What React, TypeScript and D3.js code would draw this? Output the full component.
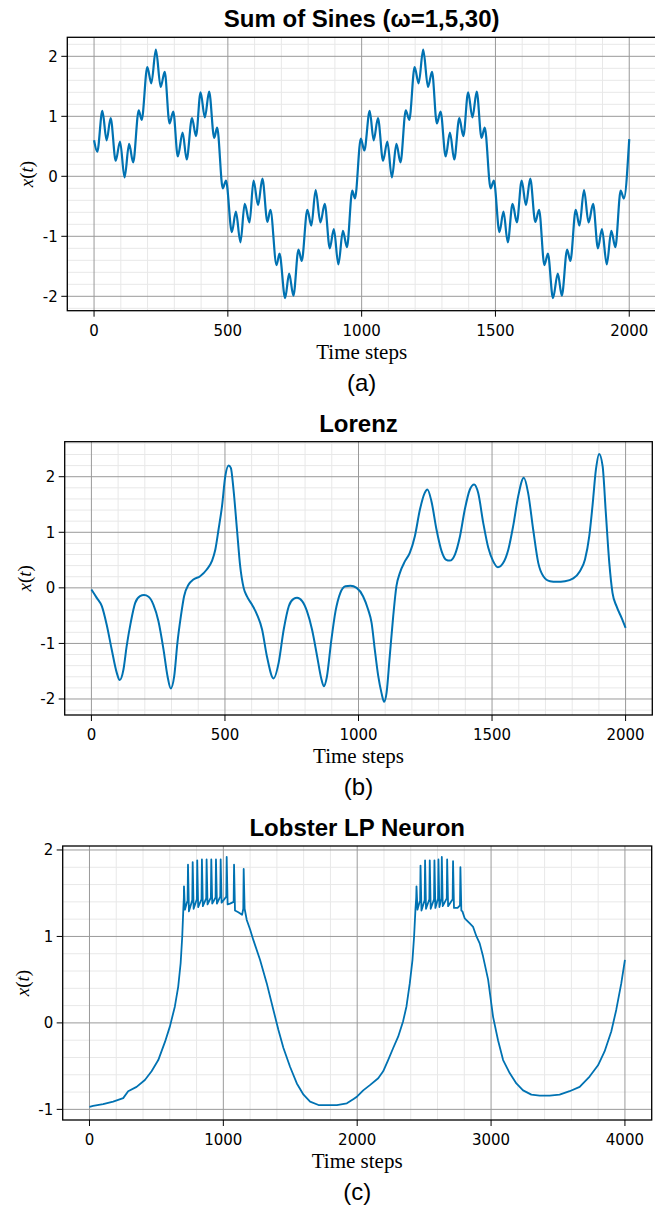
import React from 'react';
import * as d3 from 'd3';

// ---- Sum of sines (peaks / troughs) ----
const sinesT = [0, 12, 31, 47, 62, 81, 97, 114, 131, 146, 167, 178, 199, 214, 231, 249, 264, 282, 296, 313, 331, 346, 366, 381, 398, 414, 430, 449, 460, 481, 493, 515, 530, 547, 563, 581, 596, 613, 629, 648, 659, 682, 693, 714, 729, 745, 764, 776, 797, 812, 828, 846, 862, 881, 896, 913, 930, 945, 965, 975, 997,
  1010, 1030, 1045, 1061, 1080, 1096, 1113, 1130, 1145, 1165, 1178, 1198, 1213, 1230, 1248, 1263, 1281, 1295, 1314, 1330, 1346, 1365, 1380, 1398, 1414, 1430, 1448, 1460, 1482, 1494, 1515, 1530, 1546, 1564, 1580, 1598, 1614, 1630, 1649, 1663, 1683, 1696, 1715, 1733, 1748, 1768, 1780, 1800, 1814, 1831, 1848, 1865, 1883, 1898, 1916, 1933, 1948, 1968, 1980, 2000];
const sinesX = [0.6, 0.41, 1.09, 0.6, 0.97, 0.26, 0.58, -0.02, 0.54, 0.23, 1.1, 0.94, 1.82, 1.55, 2.11, 1.49, 1.74, 0.88, 1.08, 0.33, 0.73, 0.28, 0.97, 0.67, 1.4, 0.98, 1.41, 0.64, 0.81, -0.2, -0.07, -0.93, -0.59, -1.1, -0.46, -0.77, -0.07, -0.48, -0.04, -0.76, -0.56, -1.48, -1.29, -2.03, -1.62, -1.99, -1.22, -1.41, -0.56, -0.82, -0.23, -0.77, -0.46, -1.2, -0.88, -1.47, -0.91, -1.18, -0.24, -0.37, 0.63,
  0.43, 1.09, 0.6, 0.97, 0.26, 0.58, -0.02, 0.54, 0.23, 1.1, 0.94, 1.82, 1.55, 2.11, 1.49, 1.74, 0.88, 1.08, 0.33, 0.73, 0.28, 0.97, 0.67, 1.4, 0.98, 1.41, 0.64, 0.81, -0.2, -0.07, -0.93, -0.59, -1.1, -0.46, -0.77, -0.07, -0.48, -0.04, -0.76, -0.56, -1.48, -1.29, -2.03, -1.62, -1.99, -1.22, -1.41, -0.56, -0.82, -0.23, -0.77, -0.46, -1.2, -0.88, -1.47, -0.91, -1.18, -0.24, -0.37, 0.62];

// ---- Lorenz ----
const lorenzT = [0, 20, 39, 57, 76, 95, 106, 120, 132, 147, 164, 182, 197, 214, 232, 251, 270, 285, 297, 310, 322, 335, 347, 364, 382, 407, 432, 451, 464, 476, 489, 501, 514, 522, 532, 545, 557, 570, 582, 601, 620, 639, 657, 682, 701, 720, 739, 757, 770, 789, 807, 826, 845, 860, 870, 882, 897, 914, 932, 951, 970, 993, 1017, 1036, 1049, 1061, 1074, 1086, 1096, 1105, 1117, 1130, 1142, 1155, 1174, 1192, 1211, 1230, 1248, 1258, 1273, 1292, 1311, 1327, 1342, 1361, 1380, 1398, 1417, 1433, 1448, 1467, 1486, 1504, 1522, 1542, 1561, 1579, 1598, 1619, 1635, 1654, 1673, 1692, 1717, 1742, 1773, 1804, 1829, 1848, 1864, 1876, 1889, 1901, 1914, 1926, 1939, 1951, 1966, 1985, 2000];
const lorenzX = [-0.03, -0.18, -0.33, -0.66, -1.11, -1.53, -1.66, -1.47, -1.05, -0.63, -0.27, -0.15, -0.13, -0.16, -0.3, -0.6, -1.11, -1.59, -1.81, -1.59, -0.99, -0.51, -0.15, 0.06, 0.15, 0.21, 0.33, 0.48, 0.69, 1.05, 1.47, 2.0, 2.2, 2.16, 1.77, 1.05, 0.39, 0.0, -0.15, -0.3, -0.48, -0.75, -1.23, -1.63, -1.35, -0.75, -0.33, -0.2, -0.18, -0.24, -0.42, -0.75, -1.23, -1.62, -1.77, -1.59, -0.99, -0.42, -0.09, 0.03, 0.04, 0.0, -0.15, -0.39, -0.63, -1.11, -1.59, -1.89, -2.05, -1.89, -1.23, -0.51, 0.03, 0.27, 0.48, 0.63, 0.93, 1.41, 1.71, 1.77, 1.56, 1.05, 0.66, 0.51, 0.49, 0.6, 0.93, 1.41, 1.77, 1.86, 1.71, 1.17, 0.72, 0.48, 0.37, 0.45, 0.69, 1.11, 1.65, 1.98, 1.71, 1.05, 0.45, 0.21, 0.12, 0.11, 0.12, 0.17, 0.3, 0.51, 0.93, 1.47, 2.13, 2.41, 2.19, 1.35, 0.45, -0.09, -0.33, -0.54, -0.72];

// ---- Lobster LP neuron ----
const lobsterT = [0, 27, 102, 177, 252, 289, 352, 414, 464, 514, 564, 601, 638, 663, 681, 693, 701, 705, 706, 713, 733, 736, 743, 768, 771, 778, 802, 805, 812, 837, 840, 847, 872, 875, 882, 907, 910, 917, 942, 945, 952, 977, 980, 987, 1022, 1025, 1032, 1050, 1077, 1080, 1087, 1112, 1140, 1149, 1152, 1159, 1175, 1200, 1224, 1274, 1324, 1374, 1411, 1449, 1499, 1549, 1599, 1648, 1711, 1773, 1848, 1923, 1973,
  2000, 2045, 2095, 2157, 2194, 2231, 2269, 2306, 2343, 2368, 2393, 2413, 2425, 2435, 2441, 2443, 2450, 2470, 2473, 2480, 2504, 2507, 2514, 2539, 2542, 2549, 2574, 2577, 2584, 2604, 2607, 2614, 2629, 2632, 2639, 2669, 2672, 2679, 2713, 2716, 2723, 2750, 2768, 2771, 2778, 2786, 2803, 2841, 2866, 2891, 2915, 2940, 2978, 3015, 3052, 3090, 3139, 3189, 3239, 3301, 3363, 3438, 3512, 3587, 3662, 3736, 3799, 3848, 3898, 3935, 3973, 4000];
const lobsterX = [-0.97, -0.96, -0.94, -0.91, -0.87, -0.79, -0.74, -0.66, -0.56, -0.43, -0.22, -0.04, 0.19, 0.42, 0.69, 1.0, 1.31, 1.45, 1.58, 1.31, 1.42, 1.83, 1.29, 1.42, 1.86, 1.32, 1.43, 1.88, 1.34, 1.43, 1.89, 1.35, 1.44, 1.89, 1.37, 1.45, 1.89, 1.38, 1.45, 1.89, 1.38, 1.46, 1.89, 1.39, 1.46, 1.92, 1.37, 1.38, 1.4, 1.83, 1.3, 1.28, 1.25, 1.32, 1.78, 1.32, 1.19, 1.08, 0.96, 0.73, 0.46, 0.15, -0.08, -0.29, -0.51, -0.7, -0.83, -0.91, -0.95, -0.95, -0.95, -0.93, -0.88,
  -0.85, -0.78, -0.72, -0.64, -0.56, -0.43, -0.29, -0.16, 0.02, 0.19, 0.46, 0.73, 1.0, 1.31, 1.45, 1.58, 1.31, 1.42, 1.82, 1.3, 1.42, 1.88, 1.32, 1.43, 1.88, 1.32, 1.43, 1.88, 1.33, 1.44, 1.89, 1.34, 1.44, 1.92, 1.35, 1.44, 1.89, 1.35, 1.43, 1.87, 1.33, 1.33, 1.36, 1.8, 1.3, 1.29, 1.21, 1.15, 1.11, 1.0, 0.92, 0.77, 0.5, 0.07, -0.2, -0.43, -0.58, -0.7, -0.78, -0.83, -0.84, -0.84, -0.83, -0.79, -0.74, -0.62, -0.49, -0.33, -0.1, 0.15, 0.46, 0.73];

const ticks2000 = [0, 500, 1000, 1500, 2000];
const ticks4000 = [0, 1000, 2000, 3000, 4000];
const ticksLarge = [-2, -1, 0, 1, 2];
const ticksSmall = [-1, 0, 1, 2];

const BLUE = '#0072b2';
const SANS = '"DejaVu Sans", sans-serif';
const HEAD = '"Liberation Sans", Arial, sans-serif';
const SERIF = '"Liberation Serif", "Times New Roman", serif';

type PanelProps = {
  id: string;
  title: string;
  tag: string;
  t: number[];
  v: number[];
  box: { left: number; top: number; right: number; bottom: number };
  xDomain: [number, number];
  yDomain: [number, number];
  xTicks: number[];
  yTicks: number[];
  xMinorStep: number;
  curve: d3.CurveFactory;
  lineWidth: number;
};

const Panel = ({ id, title, tag, t, v, box, xDomain, yDomain, xTicks, yTicks, xMinorStep, curve, lineWidth }: PanelProps) => {
  const x = d3.scaleLinear().domain(xDomain).range([box.left, box.right]);
  const y = d3.scaleLinear().domain(yDomain).range([box.bottom, box.top]);
  const cx = (box.left + box.right) / 2;
  const cy = (box.top + box.bottom) / 2;

  // minor grid: 5 subdivisions between major ticks
  const xMinor = d3.range(Math.ceil(xDomain[0] / xMinorStep), Math.floor(xDomain[1] / xMinorStep) + 1)
    .map(i => i * xMinorStep).filter(d => !xTicks.includes(d));
  const yMinor = d3.range(Math.ceil(yDomain[0] / 0.2), Math.floor(yDomain[1] / 0.2) + 1)
    .map(i => Math.round(i * 2) / 10).filter(d => !yTicks.includes(d));

  const line = d3.line<number>().x((_, i) => x(t[i])).y(d => y(d)).curve(curve);

  return (
    <g>
      <defs>
        <clipPath id={`clip-${id}`}>
          <rect x={box.left} y={box.top} width={box.right - box.left} height={box.bottom - box.top} />
        </clipPath>
      </defs>
      <text x={cx} y={box.top - 10} textAnchor="middle" fontFamily={HEAD} fontWeight="bold" fontSize={24}>{title}</text>

      {xMinor.map(d => <line key={'xm' + d} x1={x(d)} x2={x(d)} y1={box.top} y2={box.bottom} stroke="#e8e8e8" />)}
      {yMinor.map(d => <line key={'ym' + d} x1={box.left} x2={box.right} y1={y(d)} y2={y(d)} stroke="#e8e8e8" />)}
      {xTicks.map(d => <line key={'xg' + d} x1={x(d)} x2={x(d)} y1={box.top} y2={box.bottom} stroke="#9a9a9a" />)}
      {yTicks.map(d => <line key={'yg' + d} x1={box.left} x2={box.right} y1={y(d)} y2={y(d)} stroke="#9a9a9a" />)}

      <path d={line(v) || ''} fill="none" stroke={BLUE} strokeWidth={lineWidth} strokeLinejoin="round" clipPath={`url(#clip-${id})`} />

      <rect x={box.left} y={box.top} width={box.right - box.left} height={box.bottom - box.top} fill="none" stroke="#000" strokeWidth={1.3} />

      {xTicks.map(d => (
        <g key={'xt' + d}>
          <line x1={x(d)} x2={x(d)} y1={box.bottom} y2={box.bottom + 6} stroke="#000" />
          <text x={x(d)} y={box.bottom + 25} textAnchor="middle" fontFamily={SANS} fontSize={15}>{d}</text>
        </g>
      ))}
      {yTicks.map(d => (
        <g key={'yt' + d}>
          <line x1={box.left - 6} x2={box.left} y1={y(d)} y2={y(d)} stroke="#000" />
          <text x={box.left - 9.5} y={y(d)} dy="0.36em" textAnchor="end" fontFamily={SANS} fontSize={15}>{d}</text>
        </g>
      ))}

      <text transform={`translate(${box.left - 34},${cy}) rotate(-90)`} textAnchor="middle" fontFamily={SERIF} fontSize={19}>
        <tspan fontStyle="italic">x</tspan>(<tspan fontStyle="italic">t</tspan>)
      </text>
      <text x={cx} y={box.bottom + 48} textAnchor="middle" fontFamily={SERIF} fontSize={21}>Time steps</text>
      <text x={cx} y={box.bottom + 80} textAnchor="middle" fontFamily={HEAD} fontSize={24}>{tag}</text>
    </g>
  );
};

const App = () => {
  return (
    <svg width={655} height={1206} style={{ position: 'absolute', left: 0, top: 0, display: 'block', background: '#fff' }}>
      <Panel id="a" title="Sum of Sines (ω=1,5,30)" tag="(a)" t={sinesT} v={sinesX}
        box={{ left: 67.3, top: 37.3, right: 656, bottom: 310.7 }}
        xDomain={[-100, 2100]} yDomain={[-2.24, 2.317]} xTicks={ticks2000} yTicks={ticksLarge}
        xMinorStep={100} curve={d3.curveMonotoneX} lineWidth={2.2} />
      <Panel id="b" title="Lorenz" tag="(b)" t={lorenzT} v={lorenzX}
        box={{ left: 64.7, top: 441.7, right: 652.3, bottom: 715 }}
        xDomain={[-100, 2100]} yDomain={[-2.288, 2.63]} xTicks={ticks2000} yTicks={ticksLarge}
        xMinorStep={100} curve={d3.curveMonotoneX} lineWidth={2} />
      <Panel id="c" title="Lobster LP Neuron" tag="(c)" t={lobsterT} v={lobsterX}
        box={{ left: 62.7, top: 846, right: 651.7, bottom: 1120 }}
        xDomain={[-200, 4200]} yDomain={[-1.123, 2.046]} xTicks={ticks4000} yTicks={ticksSmall}
        xMinorStep={200} curve={d3.curveLinear} lineWidth={1.8} />
    </svg>
  );
};

export default App;
